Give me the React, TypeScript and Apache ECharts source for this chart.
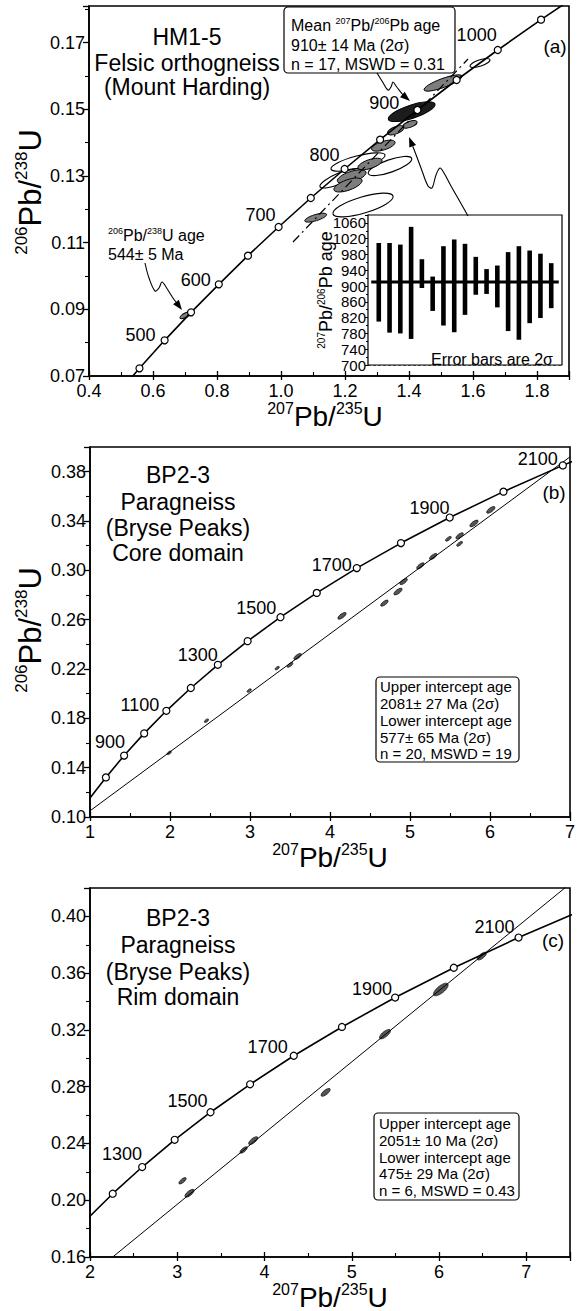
import React, { useEffect, useRef } from 'react';
import * as echarts from 'echarts';

const F = '"Liberation Sans", Arial, sans-serif';

// Concordia reference points: [207Pb/235U, 206Pb/238U, age (Ma)]
const concordiaFine: number[][] = [
  [0.4828, 0.0640, 400], [0.5577, 0.0723, 450], [0.6363, 0.0807, 500], [0.7189, 0.0891, 550],
  [0.8056, 0.0975, 600], [0.8968, 0.1061, 650], [0.9925, 0.1147, 700], [1.0931, 0.1234, 750],
  [1.1987, 0.1321, 800], [1.3097, 0.1409, 850], [1.4263, 0.1498, 900], [1.5488, 0.1588, 950],
  [1.6774, 0.1678, 1000], [1.8126, 0.1769, 1050], [1.9545, 0.1861, 1100],
];
const concordiaCoarse: number[][] = [
  [0.9925, 0.1147, 700], [1.1987, 0.1321, 800], [1.4263, 0.1498, 900], [1.6774, 0.1678, 1000],
  [1.9545, 0.1861, 1100], [2.2603, 0.2046, 1200], [2.5977, 0.2234, 1300], [2.9701, 0.2426, 1400],
  [3.3810, 0.2620, 1500], [3.8344, 0.2817, 1600], [4.3348, 0.3018, 1700], [4.8869, 0.3221, 1800],
  [5.4962, 0.3428, 1900], [6.1685, 0.3638, 2000], [6.9105, 0.3851, 2100], [7.7292, 0.4067, 2200],
];

const circleAgesA = [450, 500, 550, 600, 650, 700, 750, 800, 850, 900, 950, 1000, 1050];
const circleAgesB = [800, 900, 1000, 1100, 1200, 1300, 1400, 1500, 1600, 1700, 1800, 1900, 2000, 2100];
const circleAgesC = [1200, 1300, 1400, 1500, 1600, 1700, 1800, 1900, 2000, 2100];

// label offsets (style) keyed by age
const labelOffA: Record<number, number[]> = { 500: [-5, -5], 600: [-4, -4], 700: [1, -12], 800: [-1, -14], 900: [-14, -7], 1000: [3, -15] };
const labelOffB: Record<number, number[]> = { 900: [5, -14], 1100: [-3, -6], 1300: [4, -10], 1500: [0, -9], 1700: [-1, -3], 1900: [4, -10], 2100: [-1, -6] };
const labelOffC: Record<number, number[]> = { 1300: [4, -13], 1500: [1, -11], 1700: [-2, -9], 1900: [1, -9], 2100: [0, -11] };

// Error ellipses: [cx, cy, half-major dx, half-major dy, minor/major ratio]
const ellipsesAGrey: number[][] = [
  [0.7031, 0.0883, 0.0188, 0.0009, 0.33],
  [1.1084, 0.1175, 0.0341, 0.0010, 0.27],
  [1.2209, 0.1298, 0.0447, 0.0014, 0.35],
  [1.2094, 0.1273, 0.0437, 0.0015, 0.35],
  [1.2781, 0.1336, 0.0375, 0.0012, 0.35],
  [1.3197, 0.1391, 0.0366, 0.0011, 0.35],
  [1.3584, 0.1437, 0.0260, 0.0010, 0.40],
  [1.4031, 0.1455, 0.0219, 0.0008, 0.40],
  [1.5063, 0.1579, 0.0593, 0.0021, 0.22],
];
const ellipsesAOpen: number[][] = [
  [1.2563, 0.1213, 0.0937, 0.0027, 0.26],
  [1.1844, 0.1293, 0.0625, 0.0025, 0.25],
  [1.2406, 0.1342, 0.0844, 0.0021, 0.22],
  [1.3406, 0.1330, 0.0678, 0.0023, 0.27],
  [1.6219, 0.1639, 0.0312, 0.0010, 0.30],
];
const ellipseAMean: number[][] = [[1.4084, 0.1493, 0.0729, 0.0023, 0.27]];

const ellipsesB: number[][] = [
  [6.01, 0.349, 0.05, 0.0024, 0.4], [5.80, 0.338, 0.05, 0.0024, 0.4], [5.62, 0.328, 0.045, 0.0022, 0.4],
  [5.48, 0.3256, 0.035, 0.0017, 0.4], [5.62, 0.3215, 0.035, 0.0017, 0.4], [5.29, 0.3112, 0.045, 0.0022, 0.4],
  [5.13, 0.3036, 0.045, 0.0022, 0.4], [4.92, 0.2909, 0.045, 0.0022, 0.4], [4.85, 0.2828, 0.05, 0.0024, 0.4],
  [4.68, 0.2734, 0.045, 0.0022, 0.4], [4.15, 0.2631, 0.05, 0.0024, 0.4], [3.595, 0.2301, 0.045, 0.0022, 0.4],
  [3.50, 0.2233, 0.035, 0.0017, 0.4], [3.34, 0.2207, 0.025, 0.0012, 0.4], [2.99, 0.2025, 0.025, 0.0012, 0.4],
  [2.456, 0.1781, 0.025, 0.0012, 0.4], [1.99, 0.152, 0.025, 0.0012, 0.4],
];
const ellipsesC: number[][] = [
  [6.49, 0.372, 0.05, 0.0025, 0.4], [6.02, 0.3485, 0.08, 0.004, 0.4], [5.38, 0.317, 0.06, 0.003, 0.4],
  [4.70, 0.276, 0.05, 0.0025, 0.4], [3.87, 0.242, 0.05, 0.0025, 0.4], [3.76, 0.2354, 0.04, 0.002, 0.4],
  [3.06, 0.2137, 0.04, 0.002, 0.4], [3.14, 0.2049, 0.05, 0.0025, 0.4],
];

// Discordia / regression lines
const discordiaA: number[][] = [[1.0375, 0.1102], [1.5844, 0.1651]];
const discordiaB: number[][] = [[1.0, 0.105], [7.0, 0.392]];
const discordiaC: number[][] = [[2.26, 0.16], [7.5, 0.423]];

// Inset: 207Pb/206Pb ages with 2 sigma error bars
const insetIdx = [1, 2, 3, 4, 5, 6, 7, 8, 9, 10, 11, 12, 13, 14, 15, 16, 17];
const insetLow = [810, 782, 780, 766, 895, 837, 800, 783, 827, 878, 880, 846, 786, 764, 806, 819, 844];
const insetHigh = [1009, 1009, 1005, 1050, 968, 924, 1001, 1018, 1007, 974, 943, 952, 986, 1001, 990, 982, 958];
const meanAge = 910;
const meanSpan = [0.3, 17.7];

const ellipseRender = (fill: string, lw: number) => (_p: any, api: any) => {
  const cx = api.value(0), cy = api.value(1), hx = api.value(2), hy = api.value(3), ratio = api.value(4);
  const c = api.coord([cx, cy]);
  const e = api.coord([cx + hx, cy + hy]);
  const dx = e[0] - c[0], dy = e[1] - c[1];
  const rx = Math.hypot(dx, dy);
  const ry = Math.max(rx * ratio, 1.2);
  return {
    type: 'ellipse', x: c[0], y: c[1], rotation: Math.atan2(-dy, dx),
    shape: { cx: 0, cy: 0, rx, ry },
    style: { fill, stroke: '#000', lineWidth: lw },
  };
};

function circlesData(src: number[][], ages: number[], offs: Record<number, number[]>) {
  return src.filter((p) => ages.includes(p[2])).map((p) => ({
    value: p,
    label: offs[p[2]] ? { show: true, offset: offs[p[2]] } : { show: false },
  }));
}

function mainXAxis(grid: number, min: number, max: number, interval: number, dec: number, showMax: boolean) {
  return [
    {
      type: 'value', gridIndex: grid, min, max, interval,
      axisLine: { show: true, onZero: false, lineStyle: { color: '#000', width: 1.6 } },
      axisTick: { show: true, inside: true, length: 5, lineStyle: { color: '#000', width: 1.3 } },
      minorTick: { show: true, splitNumber: 2, length: 4, lineStyle: { color: '#000', width: 1.1 } },
      axisLabel: { color: '#000', fontSize: 18, fontFamily: F, margin: 6, showMaxLabel: showMax, showMinLabel: true,
        formatter: (v: number) => v.toFixed(dec) },
      splitLine: { show: false },
    },
    {
      type: 'value', gridIndex: grid, min, max, interval, position: 'bottom',
      axisLine: { show: false, onZero: false },
      axisTick: { show: true, inside: false, length: 4, lineStyle: { color: '#000', width: 1.3 } },
      axisLabel: { show: false },
      splitLine: { show: false },
    },
  ];
}

function mainYAxis(grid: number, min: number, max: number, interval: number) {
  return {
    type: 'value', gridIndex: grid, min, max, interval,
    axisLine: { show: true, onZero: false, lineStyle: { color: '#000', width: 1.6 } },
    axisTick: { show: true, inside: false, length: 6, lineStyle: { color: '#000', width: 1.3 } },
    minorTick: { show: true, splitNumber: 2, length: 4, lineStyle: { color: '#000', width: 1.1 } },
    axisLabel: { color: '#000', fontSize: 18, fontFamily: F, margin: 4, showMaxLabel: false,
      formatter: (v: number) => v.toFixed(2) },
    splitLine: { show: false },
  };
}

function panelSeries(xi: number, yi: number, conc: number[][], circles: any[], ell: { data: number[][]; fill: string; lw: number }[], disc: number[][], dashed: boolean) {
  const out: any[] = [];
  ell.forEach((e) => out.push({
    type: 'custom', xAxisIndex: xi, yAxisIndex: yi, clip: true, z: 3,
    renderItem: ellipseRender(e.fill, e.lw), encode: { x: 0, y: 1 }, data: e.data,
  }));
  out.push({
    type: 'line', xAxisIndex: xi, yAxisIndex: yi, data: disc, showSymbol: false, z: 4,
    lineStyle: { color: '#000', width: dashed ? 1.2 : 1, type: dashed ? [9, 4, 2, 4] : 'solid' },
  });
  out.push({
    type: 'line', xAxisIndex: xi, yAxisIndex: yi, data: conc.map((p) => [p[0], p[1]]), showSymbol: false, z: 5,
    lineStyle: { color: '#000', width: 1.6 },
  });
  out.push({
    type: 'scatter', xAxisIndex: xi, yAxisIndex: yi, data: circles, z: 6,
    symbol: 'circle', symbolSize: 7,
    itemStyle: { color: '#fff', borderColor: '#000', borderWidth: 1.2, opacity: 1 },
    label: { position: 'left', distance: 0, color: '#000', fontSize: 18, fontFamily: F,
      formatter: (p: any) => String(p.value[2]) },
  });
  return out;
}

const supRich = (sup: number) => ({
  s: { fontSize: sup, fontFamily: F, fill: '#000', color: '#000', verticalAlign: 'top', lineHeight: sup },
});

function txt(text: string, x: number, y: number, size: number, align = 'center', extra: any = {}, supSize?: number) {
  return {
    type: 'text', x, y, z: 100,
    style: { text, fontSize: size, fontFamily: F, fill: '#000', align, verticalAlign: 'middle',
      rich: supRich(supSize || Math.round(size * 0.58)), lineHeight: size * 1.1 },
    ...extra,
  };
}

function box(x: number, y: number, w: number, h: number) {
  return { type: 'rect', z: 90, shape: { x, y, width: w, height: h, r: 4 }, style: { fill: '#fff', stroke: '#000', lineWidth: 1.2 } };
}

function arrow(tip: number[], offs: number[][]) {
  const pts = offs.map((o) => [tip[0] + o[0], tip[1] + o[1]]);
  const from = pts[pts.length - 2];
  const dx = tip[0] - from[0], dy = tip[1] - from[1];
  const L = Math.hypot(dx, dy) || 1;
  const ux = dx / L, uy = dy / L, len = 10, half = 3.6;
  const bx = tip[0] - ux * len, by = tip[1] - uy * len;
  return [
    { type: 'polyline', z: 95, shape: { points: pts.slice(0, -1).concat([[bx, by]]), smooth: 0.35 }, style: { stroke: '#000', lineWidth: 1.1, fill: null } },
    { type: 'polygon', z: 95, shape: { points: [[tip[0], tip[1]], [bx - uy * half, by + ux * half], [bx + uy * half, by - ux * half]] }, style: { fill: '#000' } },
  ];
}

export default function App() {
  const ref = useRef<HTMLDivElement>(null);
  useEffect(() => {
    if (!ref.current) return;
    const chart = echarts.init(ref.current, null, { renderer: 'svg' });

    const xAxes: any[] = [
      ...mainXAxis(0, 0.4, 1.9, 0.2, 1, false),
      { type: 'value', gridIndex: 1, min: 0, max: 18, show: false },
      ...mainXAxis(2, 1, 7, 1, 0, true),
      ...mainXAxis(3, 2, 7.5, 1, 0, false),
    ];
    const yAxes: any[] = [
      mainYAxis(0, 0.07, 0.181, 0.02),
      {
        type: 'value', gridIndex: 1, min: 700, max: 1080, interval: 40,
        axisLine: { show: true, lineStyle: { color: '#000', width: 1.2 } },
        axisTick: { show: true, inside: false, length: 3, lineStyle: { color: '#000' } },
        minorTick: { show: true, splitNumber: 2, length: 2, lineStyle: { color: '#000' } },
        axisLabel: { color: '#000', fontSize: 15, fontFamily: F, margin: 2, showMaxLabel: false,
          formatter: (v: number) => String(Math.round(v)) },
        splitLine: { show: true, lineStyle: { color: '#555', width: 0.8, type: [3, 2] } },
      },
      mainYAxis(2, 0.10, 0.40, 0.04),
      mainYAxis(3, 0.16, 0.42, 0.04),
    ];

    const series: any[] = [
      ...panelSeries(0, 0, concordiaFine, circlesData(concordiaFine, circleAgesA, labelOffA), [
        { data: ellipsesAOpen, fill: 'rgba(0,0,0,0)', lw: 1.1 },
        { data: ellipsesAGrey, fill: '#7d7d7d', lw: 0.9 },
        { data: ellipseAMean, fill: '#1c1c1c', lw: 1 },
      ], discordiaA, true),
      {
        type: 'custom', xAxisIndex: 2, yAxisIndex: 1, z: 5, encode: { x: 0, y: [1, 2] },
        data: insetIdx.map((v, i) => [v, insetLow[i], insetHigh[i]]),
        renderItem: (_p: any, api: any) => {
          const top = api.coord([api.value(0), api.value(2)]);
          const bot = api.coord([api.value(0), api.value(1)]);
          return { type: 'rect', shape: { x: top[0] - 2.3, y: top[1], width: 4.6, height: bot[1] - top[1] }, style: { fill: '#000' } };
        },
      },
      {
        type: 'line', xAxisIndex: 2, yAxisIndex: 1, z: 6, showSymbol: false,
        data: meanSpan.map((x) => [x, meanAge]), lineStyle: { color: '#000', width: 3 },
      },
      ...panelSeries(3, 2, concordiaCoarse, circlesData(concordiaCoarse, circleAgesB, labelOffB), [
        { data: ellipsesB, fill: '#555', lw: 0.6 },
      ], discordiaB, false),
      ...panelSeries(5, 3, concordiaCoarse, circlesData(concordiaCoarse, circleAgesC, labelOffC), [
        { data: ellipsesC, fill: '#555', lw: 0.6 },
      ], discordiaC, false),
    ];

    chart.setOption({
      animation: false,
      backgroundColor: '#fff',
      grid: [
        { left: 89, top: 6, width: 480, height: 370, show: true, borderColor: '#000', borderWidth: 1.6, backgroundColor: 'transparent' },
        { left: 368, top: 215, width: 194, height: 150, show: true, borderColor: '#000', borderWidth: 1.2, backgroundColor: '#fff', z: 4 },
        { left: 90, top: 447, width: 480, height: 370, show: true, borderColor: '#000', borderWidth: 1.6 },
        { left: 90, top: 888, width: 480, height: 369, show: true, borderColor: '#000', borderWidth: 1.6 },
      ],
      xAxis: xAxes,
      yAxis: yAxes,
      series,
    });

    const px = (g: number, p: number[]) => chart.convertToPixel({ gridIndex: g } as any, p) as unknown as number[];
    const tip544 = px(0, [0.6906, 0.0898]);
    const tipMean = px(0, [1.4031, 0.1525]);
    const tipInset = px(0, [1.4, 0.1417]);

    const yTitle = '{s|206}Pb/{s|238}U';
    const xTitle = '{s|207}Pb/{s|235}U';

    const elements: any[] = [
      // Panel (a)
      txt('HM1-5', 187, 37, 23),
      txt('Felsic orthogneiss', 187, 63, 23),
      txt('(Mount Harding)', 187, 87, 23),
      box(284, 7, 171, 66),
      txt('Mean {s|207}Pb/{s|206}Pb age', 291, 25, 16, 'left'),
      txt('910± 14 Ma (2σ)', 291, 45, 16, 'left'),
      txt('n = 17, MSWD = 0.31', 291, 64, 16, 'left'),
      txt('(a)', 555, 46, 19),
      txt('{s|206}Pb/{s|238}U age', 108, 235, 16, 'left'),
      txt('544± 5 Ma', 108, 254, 16, 'left'),
      txt('{s|207}Pb/{s|206}Pb age', 326, 290, 18, 'center', { rotation: Math.PI / 2 }),
      txt('Error bars are 2σ', 553, 359, 16, 'right'),
      txt(xTitle, 325, 416, 28, 'center', {}, 16),
      txt(yTitle, 30, 192, 31, 'center', { rotation: Math.PI / 2 }, 17),
      ...arrow(tip544, [[-37, -47], [-33, -32], [-27, -19], [-23, -22], [-20, -28], [-16, -23], [-9, -12], [0, 0]]),
      ...arrow(tipMean, [[-33, -28], [-28, -20], [-22, -11], [-19, -14], [-17, -19], [-14, -15], [-7, -6], [0, 0]]),
      ...arrow(tipInset, [[59, 79], [50, 63], [42, 49], [35, 36], [31, 31], [27, 38], [23, 51], [19, 49], [12, 31], [6, 15], [0, 0]]),
      // Panel (b)
      txt('BP2-3', 178, 475, 23),
      txt('Paragneiss', 178, 502, 23),
      txt('(Bryse Peaks)', 178, 528, 23),
      txt('Core domain', 178, 553, 23),
      txt('(b)', 554, 492, 19),
      box(376, 677, 143, 85),
      txt('Upper intercept age', 380, 686, 15, 'left'),
      txt('2081± 27 Ma (2σ)', 380, 703, 15, 'left'),
      txt('Lower intercept age', 380, 720, 15, 'left'),
      txt('577± 65 Ma (2σ)', 380, 737, 15, 'left'),
      txt('n = 20, MSWD = 19', 380, 753, 15, 'left'),
      txt(xTitle, 330, 857, 28, 'center', {}, 16),
      txt(yTitle, 30, 630, 31, 'center', { rotation: Math.PI / 2 }, 17),
      // Panel (c)
      txt('BP2-3', 178, 918, 23),
      txt('Paragneiss', 178, 945, 23),
      txt('(Bryse Peaks)', 178, 972, 23),
      txt('Rim domain', 178, 997, 23),
      txt('(c)', 553, 940, 19),
      box(374, 1113, 145, 87),
      txt('Upper intercept age', 379, 1123, 15, 'left'),
      txt('2051± 10 Ma (2σ)', 379, 1140, 15, 'left'),
      txt('Lower intercept age', 379, 1157, 15, 'left'),
      txt('475± 29 Ma (2σ)', 379, 1173, 15, 'left'),
      txt('n = 6, MSWD = 0.43', 379, 1190, 15, 'left'),
      txt(xTitle, 330, 1297, 28, 'center', {}, 16),
    ];
    chart.setOption({ graphic: { elements } });

    return () => chart.dispose();
  }, []);

  return <div ref={ref} style={{ position: 'absolute', left: 0, top: 0, width: 584, height: 1311 }} />;
}
